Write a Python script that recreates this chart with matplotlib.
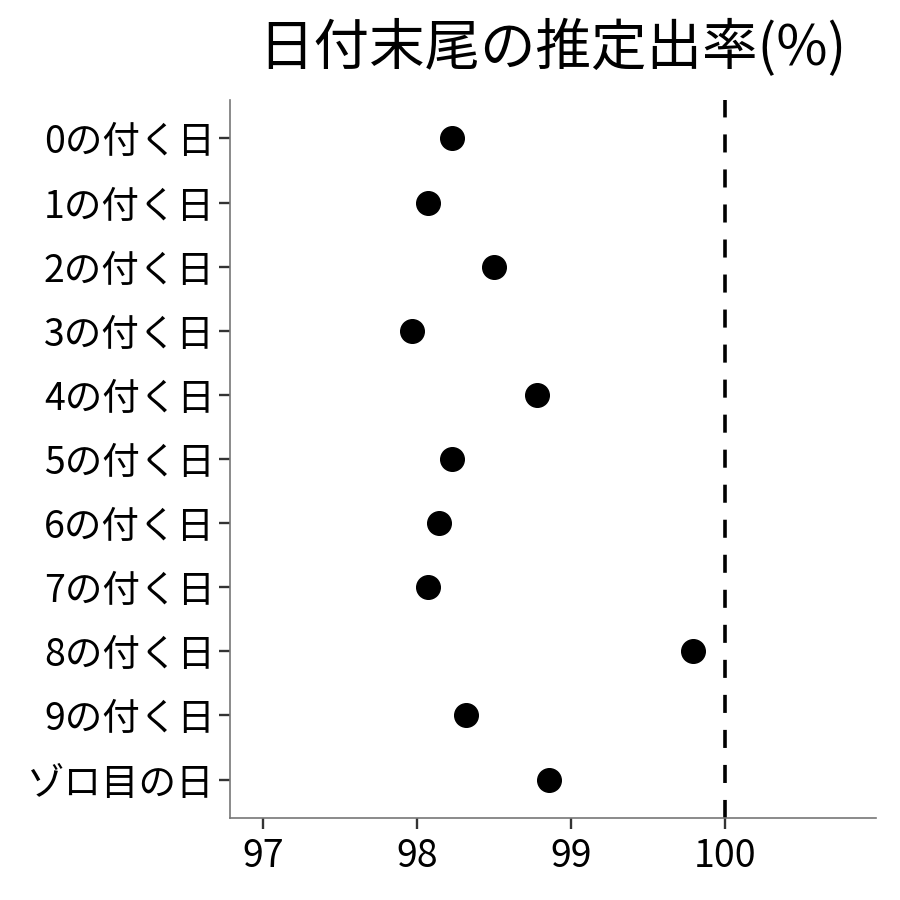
import matplotlib
matplotlib.use('Agg')
import matplotlib.pyplot as plt

plt.rcParams['font.family'] = ['Noto Sans CJK JP', 'DejaVu Sans']

labels = ['0の付く日', '1の付く日', '2の付く日', '3の付く日', '4の付く日',
          '5の付く日', '6の付く日', '7の付く日', '8の付く日', '9の付く日', 'ゾロ目の日']
rates = [98.23, 98.07, 98.50, 97.97, 98.78, 98.23, 98.14, 98.07, 99.79, 98.32, 98.86]
xticks = [97, 98, 99, 100]

fig = plt.figure(figsize=(9, 9), dpi=100)
ax = fig.add_axes([0.2556, 0.0911, 0.7174, 0.7978])

ypos = list(range(len(labels)))
ax.plot(rates, ypos, 'o', color='black', markersize=17, zorder=3)
ax.axvline(100, color='black', linestyle=(0, (5, 4.7)), linewidth=2.6)

ax.set_xlim(96.785, 100.98)
ax.set_ylim(len(labels) - 0.4, -0.6)
ax.set_yticks(ypos)
ax.set_yticklabels(labels)
ax.set_xticks(xticks)
ax.set_xticklabels([str(v) for v in xticks])

for side in ['top', 'right']:
    ax.spines[side].set_visible(False)
for side in ['left', 'bottom']:
    ax.spines[side].set_color('#777777')
    ax.spines[side].set_linewidth(1.2)
ax.tick_params(axis='both', length=8, width=1.7, color='#333333',
               labelsize=27, labelcolor='black', pad=3)
ax.tick_params(axis='x', pad=6)

ax.set_title('日付末尾の推定出率(%)', fontsize=40, pad=25)

fig.savefig('out.png', dpi=100)
